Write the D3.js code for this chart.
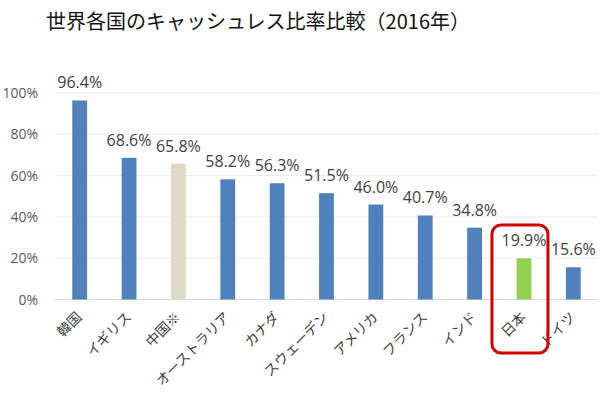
<!DOCTYPE html>
<html><head><meta charset="utf-8">
<script src="https://cdn.jsdelivr.net/npm/d3@7"></script>
<style>body{margin:0;background:#fff}svg{display:block}</style>
</head><body>
<script>
const categories = ["韓国","イギリス","中国※","オーストラリア","カナダ","スウェーデン","アメリカ","フランス","インド","日本","ドイツ"];
const values = [96.4,68.6,65.8,58.2,56.3,51.5,46.0,40.7,34.8,19.9,15.6];
const valueLabels = ["96.4%","68.6%","65.8%","58.2%","56.3%","51.5%","46.0%","40.7%","34.8%","19.9%","15.6%"];
const barColors = ["#4f81bd","#4f81bd","#ddd9c3","#4f81bd","#4f81bd","#4f81bd","#4f81bd","#4f81bd","#4f81bd","#92d050","#4f81bd"];
const yTicks = [0,20,40,60,80,100];
const yTickLabels = ["0%","20%","40%","60%","80%","100%"];
const title = "世界各国のキャッシュレス比率比較（2016年）";
const highlight = "日本";

const W=600,H=396;
const svg=d3.select("body").append("svg").attr("width",W).attr("height",H);
const font="'Open Sans','Noto Sans CJK JP',sans-serif";
const x=d3.scaleBand().domain(categories).range([55,598]).paddingInner(0.7).paddingOuter(0.35);
const y=d3.scaleLinear().domain([0,100]).range([299.5,93]);

svg.append("text").attr("x",46).attr("y",29).attr("font-family","'Noto Sans CJK JP',sans-serif")
  .attr("font-size",20).attr("fill","#111").text(title);

// gridlines
svg.append("g").selectAll("line").data(yTicks).join("line")
  .attr("x1",55).attr("x2",598).attr("y1",d=>y(d)).attr("y2",d=>y(d))
  .attr("stroke",d=>d===0?"#d9d9d9":"#ebebeb").attr("stroke-width",1);
// y labels
svg.append("g").selectAll("text").data(yTicks).join("text")
  .attr("x",38).attr("y",d=>y(d)+5).attr("text-anchor","end")
  .attr("font-family",font).attr("font-size",14).attr("fill","#595959")
  .text((d,i)=>yTickLabels[i]);

// bars
svg.append("g").selectAll("rect").data(values).join("rect")
  .attr("x",(d,i)=>x(categories[i])).attr("width",x.bandwidth())
  .attr("y",d=>y(d)).attr("height",d=>y(0)-y(d))
  .attr("fill",(d,i)=>barColors[i]);

// value labels
svg.append("g").selectAll("text").data(values).join("text")
  .attr("x",(d,i)=>x(categories[i])+x.bandwidth()/2).attr("y",d=>y(d)-12)
  .attr("text-anchor","middle").attr("font-family",font).attr("font-size",16).attr("fill","#404040")
  .text((d,i)=>valueLabels[i]);

// x labels
svg.append("g").selectAll("text").data(categories).join("text")
  .attr("transform",d=>`translate(${x(d)+x.bandwidth()/2+3},${318}) rotate(-45)`)
  .attr("text-anchor","end").attr("font-family","'Noto Sans CJK JP',sans-serif")
  .attr("font-size",14).attr("fill","#404040").text(d=>d);

// highlight box
const hx=x(highlight)+x.bandwidth()/2;
svg.append("rect").attr("x",hx-32).attr("y",225).attr("width",56).attr("height",128)
  .attr("rx",9).attr("fill","none").attr("stroke","#d00000").attr("stroke-width",3);
</script>
</body></html>
